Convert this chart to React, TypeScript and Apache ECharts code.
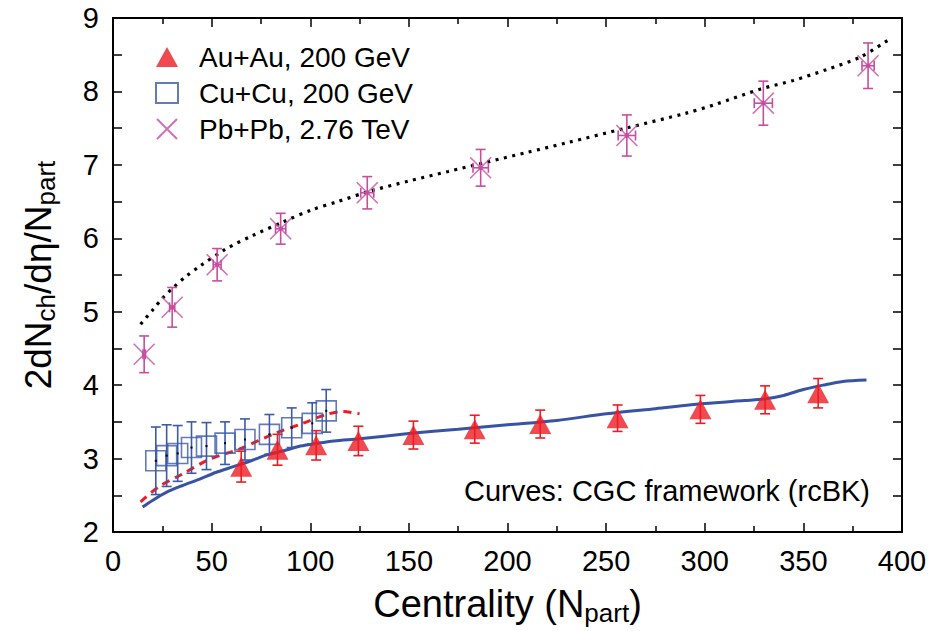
import React, { useEffect, useRef } from "react";
import * as echarts from "echarts";

const FONT = "'Liberation Sans', Arial, Helvetica, sans-serif";

// Au+Au 200 GeV
const auX = [65, 83.4, 103, 124.4, 152.3, 183.4, 216.6, 255.8, 297.8, 330.6, 357.5];
const auY = [2.89, 3.12, 3.18, 3.24, 3.32, 3.4, 3.47, 3.55, 3.67, 3.8, 3.89];
const auErr = [0.21, 0.21, 0.2, 0.2, 0.19, 0.19, 0.19, 0.18, 0.19, 0.19, 0.2];

// Cu+Cu 200 GeV
const cuX = [21.7, 27.2, 32.8, 39.8, 47.4, 56.8, 66.9, 79.3, 90.6, 101, 108.1];
const cuY = [2.97, 3.04, 3.07, 3.15, 3.17, 3.21, 3.26, 3.33, 3.42, 3.48, 3.65];
const cuErr = [0.46, 0.42, 0.38, 0.35, 0.32, 0.29, 0.28, 0.27, 0.27, 0.28, 0.29];

// Pb+Pb 2.76 TeV
const pbX = [15.8, 30.0, 52.8, 85.0, 128.9, 186.4, 260.5, 329.7, 382.8];
const pbY = [4.42, 5.06, 5.64, 6.13, 6.62, 6.96, 7.4, 7.84, 8.35];
const pbErr = [0.25, 0.27, 0.22, 0.21, 0.22, 0.25, 0.28, 0.3, 0.31];
const pbXErr = [0.6, 1.3, 2.0, 2.6, 3.3, 3.9, 4.4, 4.6, 3.1];

// CGC curves
const cgcAuX = [15, 20, 27, 35, 44, 52, 61, 70, 78, 87, 95, 104, 112, 125, 150, 175, 200, 225, 250, 275, 300, 320, 330, 340, 350, 360, 370, 382];
const cgcAuY = [2.34, 2.43, 2.54, 2.63, 2.72, 2.81, 2.89, 2.97, 3.05, 3.11, 3.17, 3.21, 3.24, 3.27, 3.34, 3.4, 3.46, 3.52, 3.61, 3.68, 3.75, 3.79, 3.81, 3.86, 3.94, 4.0, 4.05, 4.07];

const cgcCuX = [14, 23.4, 35.2, 48.8, 64, 82.7, 96.2, 108.1, 116.6, 125];
const cgcCuY = [2.41, 2.62, 2.79, 2.99, 3.13, 3.35, 3.48, 3.6, 3.64, 3.61];

const cgcPbX = [14, 20, 25, 31, 37, 44, 57, 71, 86, 101, 114, 130, 150, 170, 190, 210, 230, 260, 290, 305, 328, 345, 362, 379, 393];
const cgcPbY = [4.83, 5.02, 5.18, 5.34, 5.48, 5.62, 5.85, 6.04, 6.22, 6.39, 6.5, 6.64, 6.78, 6.91, 7.04, 7.17, 7.3, 7.5, 7.7, 7.82, 8.03, 8.15, 8.3, 8.47, 8.7];

const xTicks = { min: 0, max: 400, interval: 50 };
const yTicks = { min: 2, max: 9, interval: 1 };

const RED = "#ed1c24";
const BLUE = "#3c5aa8";
const BLUE_LINE = "#3853a4";
const MAGENTA = "#c54f9f";

const zip = (xs: number[], ys: number[]) => xs.map((x, i) => [x, ys[i]]);

function errorBarSeries(data: number[][], color: string, withX: boolean, centerDot: string | null) {
  return {
    type: "custom",
    xAxisIndex: 0,
    yAxisIndex: 0,
    silent: true,
    z: 3,
    encode: { x: 0, y: 1 },
    data,
    renderItem: (params: any, api: any) => {
      const x = api.value(0);
      const y = api.value(1);
      const e = api.value(2);
      const top = api.coord([x, y + e]);
      const bot = api.coord([x, y - e]);
      const cap = 5;
      const ls = { stroke: color, lineWidth: 1.6 };
      const children: any[] = [
        { type: "line", shape: { x1: top[0], y1: top[1], x2: bot[0], y2: bot[1] }, style: ls },
        { type: "line", shape: { x1: top[0] - cap, y1: top[1], x2: top[0] + cap, y2: top[1] }, style: ls },
        { type: "line", shape: { x1: bot[0] - cap, y1: bot[1], x2: bot[0] + cap, y2: bot[1] }, style: ls },
      ];
      if (withX) {
        const xe = api.value(3);
        const l = api.coord([x - xe, y]);
        const r = api.coord([x + xe, y]);
        children.push(
          { type: "line", shape: { x1: l[0], y1: l[1], x2: r[0], y2: r[1] }, style: ls },
          { type: "line", shape: { x1: l[0], y1: l[1] - cap, x2: l[0], y2: l[1] + cap }, style: ls },
          { type: "line", shape: { x1: r[0], y1: r[1] - cap, x2: r[0], y2: r[1] + cap }, style: ls }
        );
      }
      if (centerDot) {
        const c = api.coord([x, y]);
        const s = withX ? 4 : 2;
        children.push({ type: "rect", shape: { x: c[0] - s / 2, y: c[1] - s / 2, width: s, height: s }, style: { fill: centerDot } });
      }
      return { type: "group", children };
    },
  };
}

export default function App() {
  const ref = useRef<HTMLDivElement>(null);

  useEffect(() => {
    if (!ref.current) return;
    const chart = echarts.init(ref.current, null, { renderer: "svg" });

    const axisLine = { show: true, onZero: false, lineStyle: { color: "#000", width: 2 } };
    const tick = { show: true, inside: true, length: 9, lineStyle: { color: "#000", width: 1.5 } };
    const minor = { show: true, splitNumber: 2, length: 6, lineStyle: { color: "#000", width: 1.5 } };

    const option: any = {
      animation: false,
      backgroundColor: "#fff",
      textStyle: { fontFamily: FONT },
      grid: { left: 113, right: 43, top: 18, bottom: 87 },
      legend: {
        orient: "vertical",
        left: 150,
        top: 38,
        itemWidth: 22,
        itemHeight: 20,
        itemGap: 8,
        selectedMode: false,
        textStyle: { fontSize: 28, color: "#000", fontFamily: FONT, padding: [0, 0, 0, 16] },
        data: ["Au+Au, 200 GeV", "Cu+Cu, 200 GeV", "Pb+Pb, 2.76 TeV"],
      },
      xAxis: [
        {
          type: "value",
          ...xTicks,
          position: "bottom",
          axisLine,
          axisTick: tick,
          minorTick: minor,
          splitLine: { show: false },
          axisLabel: { fontSize: 29, color: "#000", margin: 14, fontFamily: FONT },
          name: "Centrality (N{b|part})",
          nameLocation: "middle",
          nameGap: 50,
          nameTextStyle: {
            fontSize: 38,
            color: "#000",
            fontFamily: FONT,
            lineHeight: 44,
            rich: {
              b: { fontSize: 26, color: "#000", fontFamily: FONT, lineHeight: 22, verticalAlign: "bottom" },
            },
          },
        },
        {
          type: "value",
          ...xTicks,
          position: "top",
          axisLine,
          axisTick: tick,
          minorTick: minor,
          splitLine: { show: false },
          axisLabel: { show: false },
        },
      ],
      yAxis: [
        {
          type: "value",
          ...yTicks,
          position: "left",
          axisLine,
          axisTick: tick,
          minorTick: { ...minor, length: 9 },
          splitLine: { show: false },
          axisLabel: { fontSize: 29, color: "#000", margin: 14, fontFamily: FONT },
          name: "{a|2dN}{b|ch}{a|/dη/N}{b|part}",
          nameLocation: "middle",
          nameRotate: 90,
          nameGap: 54,
          nameTextStyle: {
            rich: {
              a: { fontSize: 37, color: "#000", fontFamily: FONT, lineHeight: 42 },
              b: { fontSize: 26, color: "#000", fontFamily: FONT, lineHeight: 22, verticalAlign: "bottom" },
            },
          },
        },
        {
          type: "value",
          ...yTicks,
          position: "right",
          axisLine,
          axisTick: tick,
          minorTick: { ...minor, length: 9 },
          splitLine: { show: false },
          axisLabel: { show: false },
        },
      ],
      graphic: [
        {
          type: "text",
          right: 75,
          top: 476,
          style: {
            text: "Curves: CGC framework (rcBK)",
            fill: "#000",
            font: `29px ${FONT}`,
          },
        },
      ],
      series: [
        {
          name: "CGC Au+Au",
          type: "line",
          data: zip(cgcAuX, cgcAuY),
          smooth: 0.3,
          showSymbol: false,
          symbol: "none",
          silent: true,
          z: 1,
          lineStyle: { color: BLUE_LINE, width: 3 },
        },
        {
          name: "CGC Cu+Cu",
          type: "line",
          data: zip(cgcCuX, cgcCuY),
          smooth: 0.3,
          showSymbol: false,
          symbol: "none",
          silent: true,
          z: 1,
          lineStyle: { color: RED, width: 3, type: [8, 6] },
        },
        {
          name: "CGC Pb+Pb",
          type: "line",
          data: zip(cgcPbX, cgcPbY),
          smooth: 0.3,
          showSymbol: false,
          symbol: "none",
          silent: true,
          z: 1,
          lineStyle: { color: "#000", width: 3.2, type: [3, 5.5] },
        },
        errorBarSeries(auX.map((x, i) => [x, auY[i], auErr[i]]), RED, false, null),
        errorBarSeries(cuX.map((x, i) => [x, cuY[i], cuErr[i]]), BLUE, false, "#000"),
        errorBarSeries(pbX.map((x, i) => [x, pbY[i], pbErr[i], pbXErr[i]]), MAGENTA, true, MAGENTA),
        {
          name: "Au+Au, 200 GeV",
          type: "scatter",
          data: zip(auX, auY),
          symbol: "triangle",
          symbolSize: [22, 20],
          z: 4,
          itemStyle: { color: RED },
        },
        {
          name: "Cu+Cu, 200 GeV",
          type: "scatter",
          data: zip(cuX, cuY),
          symbol: "rect",
          symbolSize: 20,
          z: 2,
          itemStyle: { color: "rgba(255,255,255,0)", borderColor: BLUE, borderWidth: 1.6 },
        },
        {
          name: "Pb+Pb, 2.76 TeV",
          type: "scatter",
          data: zip(pbX, pbY),
          symbol: "path://M0,0L10,10M10,0L0,10",
          symbolSize: 21,
          z: 4,
          itemStyle: { color: "rgba(255,255,255,0)", borderColor: MAGENTA, borderWidth: 1.6 },
        },
      ],
    };

    chart.setOption(option);
    return () => chart.dispose();
  }, []);

  return (
    <div
      ref={ref}
      style={{ position: "absolute", left: 0, top: 0, width: 945, height: 631, background: "#fff" }}
    />
  );
}
